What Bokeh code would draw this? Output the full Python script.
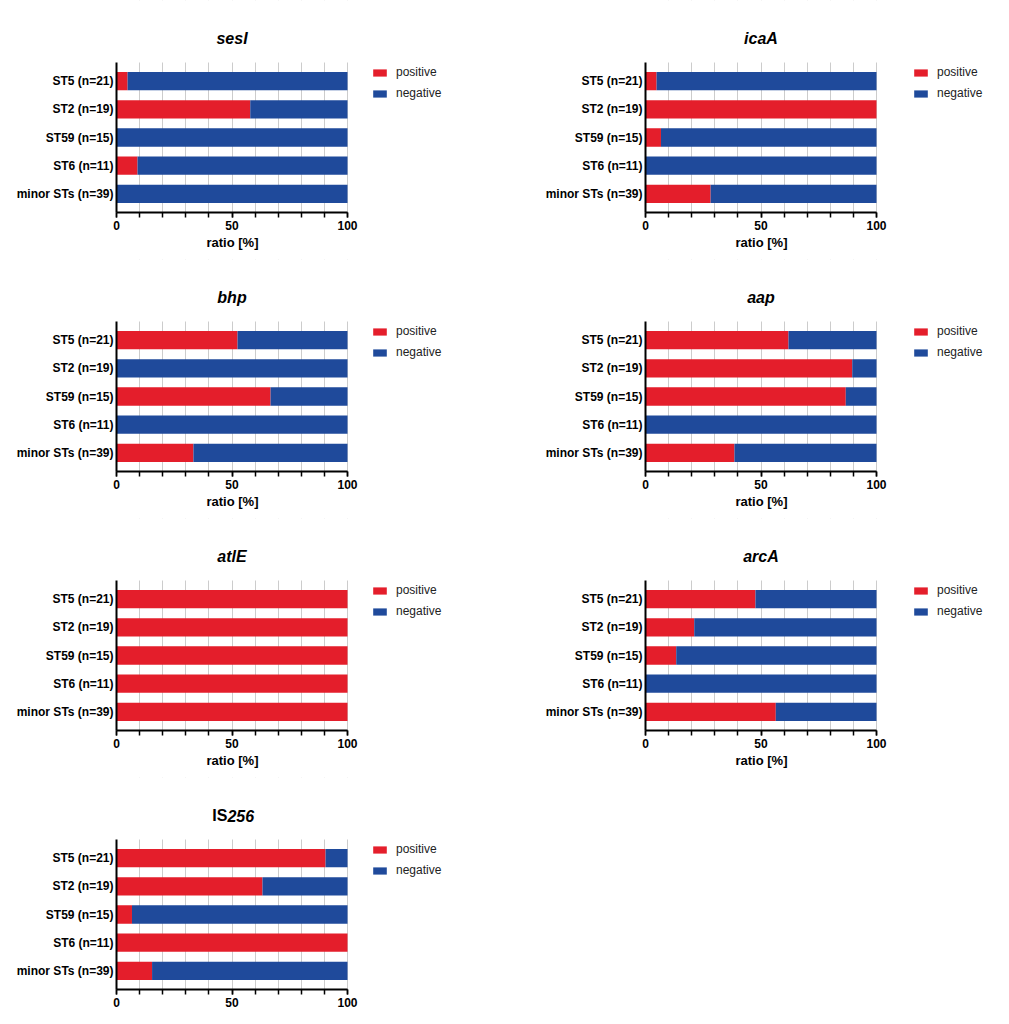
from bokeh.plotting import figure
from bokeh.models import (ColumnDataSource, Range1d, Legend, LegendItem, Label, BoxAnnotation,
                          SingleIntervalTicker, FixedTicker, Title)
from bokeh.layouts import column, row
from bokeh.embed import file_html
from bokeh.resources import INLINE

# sequence types (top to bottom)
categories = ["ST5 (n=21)", "ST2 (n=19)", "ST59 (n=15)", "ST6 (n=11)", "minor STs (n=39)"]

# ratio of positive isolates [%] per ST
sesI = [4.8, 57.9, 0, 9.1, 0]
icaA = [4.8, 100, 6.7, 0, 28.2]
bhp = [52.4, 0, 66.7, 0, 33.3]
aap = [61.9, 89.5, 86.7, 0, 38.5]
atlE = [100, 100, 100, 100, 100]
arcA = [47.6, 21.1, 13.3, 0, 56.4]
IS256 = [90.5, 63.2, 6.7, 100, 15.4]

genes = ["sesI", "icaA", "bhp", "aap", "atlE", "arcA", "IS256"]
series = [sesI, icaA, bhp, aap, atlE, arcA, IS256]

FONT = "Liberation Sans"
RED = "#e41e2b"
BLUE = "#1f4a9b"

AXIS_PX = 231      # pixel length of the 0..100 axis
BAR_AREA_PX = 150  # pixel height of the bar area
TOP_PX = 62        # space above the bar area (title)
PAD = 0.66         # bar area spans -PAD .. n-1+PAD


def make_panel(name, pos, left_col=True, last=False):
    n = len(categories)
    ys = list(range(n))[::-1]
    neg = [100 - v for v in pos]
    src = ColumnDataSource(data=dict(y=ys, positive=pos, negative=neg))

    width = 500 if left_col else 509
    left = 116 if left_col else 145
    bottom = 22 if last else 47
    unit = BAR_AREA_PX / (n - 1 + 2 * PAD)
    y_top = n - 1 + PAD
    # the frame runs on to the right edge so that the legend fits inside it
    x_end = 100 * (width - left) / AXIS_PX

    p = figure(title=None, x_range=Range1d(0, x_end),
               y_range=Range1d(-PAD, y_top + TOP_PX / unit),
               width=width, height=TOP_PX + BAR_AREA_PX + bottom,
               min_border_left=left, min_border_right=0,
               min_border_top=0, min_border_bottom=bottom,
               toolbar_location=None, output_backend="svg")
    p.outline_line_color = None

    rs = p.hbar_stack(["positive", "negative"], y="y", height=0.65,
                      color=[RED, BLUE], line_color=None, source=src)

    # hide the grid above the bar area
    p.add_layout(BoxAnnotation(bottom=y_top, fill_color="white", fill_alpha=1,
                               line_color=None, level="underlay"))

    # title (gene name in bold italic)
    ty = y_top + 24 / unit
    if name == "IS256":
        p.add_layout(Label(x=48, y=ty, text="IS", text_align="right", text_baseline="middle",
                           text_font=FONT, text_font_style="bold", text_font_size="16px",
                           text_color="black"))
        p.add_layout(Label(x=48, y=ty, text="256", text_align="left", text_baseline="middle",
                           text_font=FONT, text_font_style="bold italic", text_font_size="16px",
                           text_color="black"))
    else:
        p.add_layout(Label(x=50, y=ty, text=name, text_align="center", text_baseline="middle",
                           text_font=FONT, text_font_style="bold italic", text_font_size="16px",
                           text_color="black"))

    legend = Legend(items=[LegendItem(label="positive", renderers=[rs[0]]),
                           LegendItem(label="negative", renderers=[rs[1]])],
                    location=(255 if left_col else 267, BAR_AREA_PX - 41),
                    glyph_width=17, glyph_height=9, label_standoff=8, label_height=20,
                    label_text_font=FONT, label_text_font_size="12px", label_text_color="#222222",
                    spacing=1, padding=0, margin=0,
                    border_line_color=None, background_fill_alpha=0)
    p.add_layout(legend)

    p.xgrid.ticker = SingleIntervalTicker(interval=10)
    p.xgrid.bounds = (-1, 101)
    p.xgrid.grid_line_color = "#cccccc"
    p.ygrid.grid_line_color = None

    p.xaxis.bounds = (0, 100)
    p.xaxis.ticker = SingleIntervalTicker(interval=50, num_minor_ticks=5)
    p.xaxis.axis_line_width = 2
    p.xaxis.axis_line_color = "black"
    p.xaxis.major_tick_out = 5
    p.xaxis.major_tick_in = 0
    p.xaxis.minor_tick_out = 5
    p.xaxis.minor_tick_in = 0
    p.xaxis.major_tick_line_color = "black"
    p.xaxis.minor_tick_line_color = "black"
    p.xaxis.major_tick_line_width = 1.5
    p.xaxis.minor_tick_line_width = 1.5
    p.xaxis.major_label_text_font = FONT
    p.xaxis.major_label_text_font_style = "bold"
    p.xaxis.major_label_text_font_size = "12px"
    p.xaxis.major_label_text_color = "black"
    p.xaxis.major_label_standoff = 3
    if not last:
        # x axis label, centred under the 0..100 axis
        p.add_layout(Title(text="ratio [%]", align="left", offset=AXIS_PX / 2 - 25.5,
                           standoff=0, text_font=FONT, text_font_style="bold",
                           text_font_size="13px", text_color="black"), "below")

    p.yaxis.bounds = (-PAD, y_top)
    p.yaxis.ticker = FixedTicker(ticks=ys)
    p.yaxis.major_label_overrides = {y: c for y, c in zip(ys, categories)}
    p.yaxis.axis_line_width = 2
    p.yaxis.axis_line_color = "black"
    p.yaxis.major_tick_line_color = None
    p.yaxis.minor_tick_line_color = None
    p.yaxis.major_tick_out = 0
    p.yaxis.major_tick_in = 0
    p.yaxis.major_label_text_font = FONT
    p.yaxis.major_label_text_font_style = "bold"
    p.yaxis.major_label_text_font_size = "12px"
    p.yaxis.major_label_text_color = "black"
    p.yaxis.major_label_standoff = 3
    return p


panels = []
for i, (name, pos) in enumerate(zip(genes, series)):
    panels.append(make_panel(name, pos, left_col=(i % 2 == 0), last=(i == len(genes) - 1)))

layout = column(row(panels[0], panels[1]),
                row(panels[2], panels[3]),
                row(panels[4], panels[5]),
                row(panels[6]))

open("out.html", "w").write(file_html(layout, INLINE))
